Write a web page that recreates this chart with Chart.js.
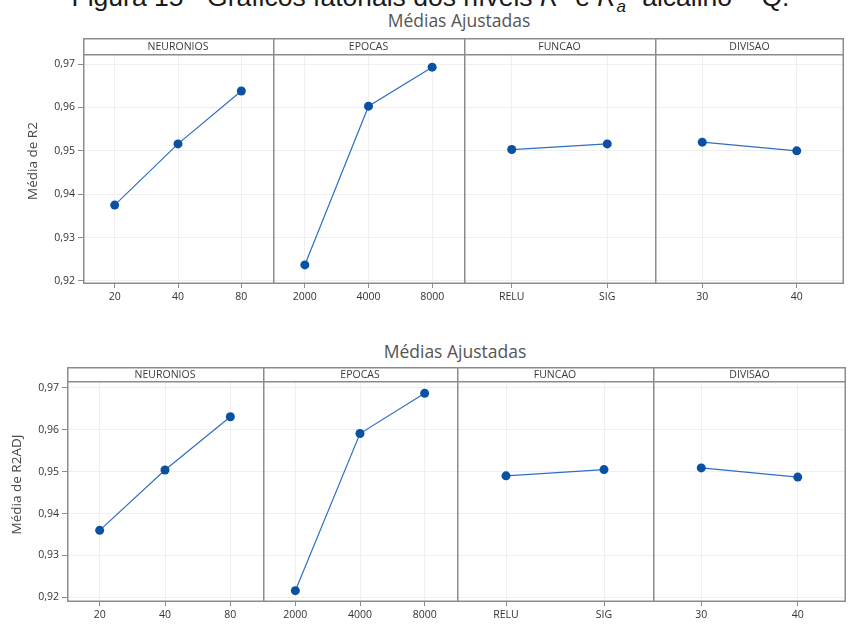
<!DOCTYPE html>
<html>
<head>
<meta charset="utf-8">
<script src="https://cdn.jsdelivr.net/npm/chart.js@4/dist/chart.umd.min.js"></script>
<style>
  body { margin: 0; background: #fff; width: 851px; height: 630px; overflow: hidden; position: relative; }
  canvas { position: absolute; }
  .caption { position: absolute; left: 0; width: 861px; top: -16px; text-align: center;
    font-family: "Liberation Sans", Arial, sans-serif; font-size: 26.5px; line-height: 26px; color: #1a1a1a; white-space: nowrap; }
  .title { position: absolute; font-family: "Open Sans", sans-serif; font-size: 17.5px; color: #555;
    transform: translate(-50%, -50%); white-space: nowrap; }
</style>
</head>
<body>
<div class="caption">Figura 15 - Gráficos fatoriais dos níveis <i>R</i>² e <i>R</i><sub style="font-size:17px"><i>a</i></sub>² alcalino – Q.</div>
<div class="title" style="left:459px; top:20px">Médias Ajustadas</div>
<div class="title" style="left:455px; top:351px">Médias Ajustadas</div>

<canvas id="r2a" width="273" height="268" style="left:0px; top:38px"></canvas>
<canvas id="r2b" width="191" height="268" style="left:273px; top:38px"></canvas>
<canvas id="r2c" width="191" height="268" style="left:464px; top:38px"></canvas>
<canvas id="r2d" width="189" height="268" style="left:655px; top:38px"></canvas>

<canvas id="adja" width="263" height="257" style="left:0px; top:367px"></canvas>
<canvas id="adjb" width="194" height="257" style="left:263px; top:367px"></canvas>
<canvas id="adjc" width="196" height="257" style="left:457px; top:367px"></canvas>
<canvas id="adjd" width="193" height="257" style="left:653px; top:367px"></canvas>

<script>
const factors = ["NEURONIOS", "EPOCAS", "FUNCAO", "DIVISAO"];
const neuroniosLevels = ["20", "40", "80"];
const epocasLevels = ["2000", "4000", "8000"];
const funcaoLevels = ["RELU", "SIG"];
const divisaoLevels = ["30", "40"];
const levels = [neuroniosLevels, epocasLevels, funcaoLevels, divisaoLevels];

const r2Neuronios = [0.9375, 0.9516, 0.9638];
const r2Epocas = [0.9237, 0.9603, 0.9693];
const r2Funcao = [0.9503, 0.9516];
const r2Divisao = [0.9520, 0.9500];

const r2adjNeuronios = [0.9360, 0.9504, 0.9631];
const r2adjEpocas = [0.9216, 0.9591, 0.9687];
const r2adjFuncao = [0.9490, 0.9505];
const r2adjDivisao = [0.9509, 0.9487];

const yTicks = [0.92, 0.93, 0.94, 0.95, 0.96, 0.97];

const FONT = '"Open Sans", "Noto Sans", sans-serif';
const FRAME = "#8c8c8c";
const GRID = "#efefef";

// panel frame + strip header (Minitab style)
const framePlugin = {
  id: "frame",
  afterDraw(chart, args, opts) {
    const { ctx, chartArea: a } = chart;
    const top = a.top - opts.stripH;
    ctx.save();
    ctx.strokeStyle = FRAME;
    ctx.lineWidth = 1.5;
    ctx.beginPath();
    ctx.moveTo(a.left + 0.75, top);
    ctx.lineTo(a.left + 0.75, a.bottom);
    ctx.moveTo(a.left, top + 0.75);
    ctx.lineTo(a.right, top + 0.75);
    ctx.moveTo(a.left, a.top - 0.25);
    ctx.lineTo(a.right, a.top - 0.25);
    ctx.moveTo(a.left, a.bottom - 0.75);
    ctx.lineTo(a.right, a.bottom - 0.75);
    if (opts.last) {
      ctx.moveTo(a.right - 0.75, top);
      ctx.lineTo(a.right - 0.75, a.bottom);
    }
    ctx.stroke();

    ctx.fillStyle = "#3a3a3a";
    ctx.font = "10.5px " + FONT;
    ctx.textAlign = "center";
    ctx.textBaseline = "middle";
    ctx.fillText(opts.label, (a.left + a.right) / 2, top + opts.stripH / 2 + 0.5);

    if (opts.yTitle) {
      ctx.save();
      ctx.translate(opts.yTitleX, (top + a.bottom) / 2);
      ctx.rotate(-Math.PI / 2);
      ctx.fillStyle = "#4a4a4a";
      ctx.font = "13.5px " + FONT;
      ctx.fillText(opts.yTitle, 0, 0);
      ctx.restore();
    }
    ctx.restore();
  }
};

function makePanel(id, idx, values, o) {
  const first = idx === 0;
  new Chart(document.getElementById(id), {
    type: "line",
    data: {
      labels: levels[idx],
      datasets: [{
        data: values,
        borderColor: "#2e6fc4",
        borderWidth: 1.2,
        pointRadius: 4.5,
        pointHoverRadius: 4.5,
        pointBackgroundColor: "#0a51a1",
        pointBorderWidth: 0,
        tension: 0
      }]
    },
    options: {
      responsive: false,
      animation: false,
      devicePixelRatio: 1,
      layout: { autoPadding: false, padding: { top: o.stripH, left: 0, right: 0, bottom: 0 } },
      plugins: {
        legend: { display: false },
        tooltip: { enabled: false },
        frame: {
          stripH: o.stripH,
          label: factors[idx],
          last: idx === 3,
          yTitle: first ? o.yTitle : null,
          yTitleX: o.yTitleX
        }
      },
      scales: {
        x: {
          type: "category",
          offset: true,
          grid: { offset: false, color: GRID, tickLength: 4, tickColor: FRAME },
          border: { display: false },
          ticks: { color: "#333", font: { family: FONT, size: 10.5 }, padding: 3, maxRotation: 0 },
          afterFit: (s) => {
            s.height = 22;
            s.paddingLeft = 0;
            s.paddingRight = 0;
          }
        },
        y: {
          min: o.yMin,
          max: o.yMax,
          afterBuildTicks: (s) => { s.ticks = yTicks.map((v) => ({ value: v })); },
          grid: { color: GRID, drawTicks: first, tickLength: 5, tickColor: FRAME },
          border: { display: false },
          ticks: {
            display: first,
            color: "#333",
            padding: 3,
            font: { family: FONT, size: 10.5 },
            callback: (v) => v.toFixed(2).replace(".", ",")
          },
          afterFit: (s) => {
            s.width = first ? o.yWidth : 0;
            s.paddingTop = 0;
            s.paddingBottom = 0;
          }
        }
      }
    },
    plugins: [framePlugin]
  });
}

const topRow = { stripH: 17, yMin: 0.9193, yMax: 0.9721, yWidth: 83, yTitle: "Média de R2", yTitleX: 33 };
makePanel("r2a", 0, r2Neuronios, topRow);
makePanel("r2b", 1, r2Epocas, topRow);
makePanel("r2c", 2, r2Funcao, topRow);
makePanel("r2d", 3, r2Divisao, topRow);

const bottomRow = { stripH: 15, yMin: 0.9189, yMax: 0.9714, yWidth: 67, yTitle: "Média de R2ADJ", yTitleX: 17 };
makePanel("adja", 0, r2adjNeuronios, bottomRow);
makePanel("adjb", 1, r2adjEpocas, bottomRow);
makePanel("adjc", 2, r2adjFuncao, bottomRow);
makePanel("adjd", 3, r2adjDivisao, bottomRow);
</script>
</body>
</html>
